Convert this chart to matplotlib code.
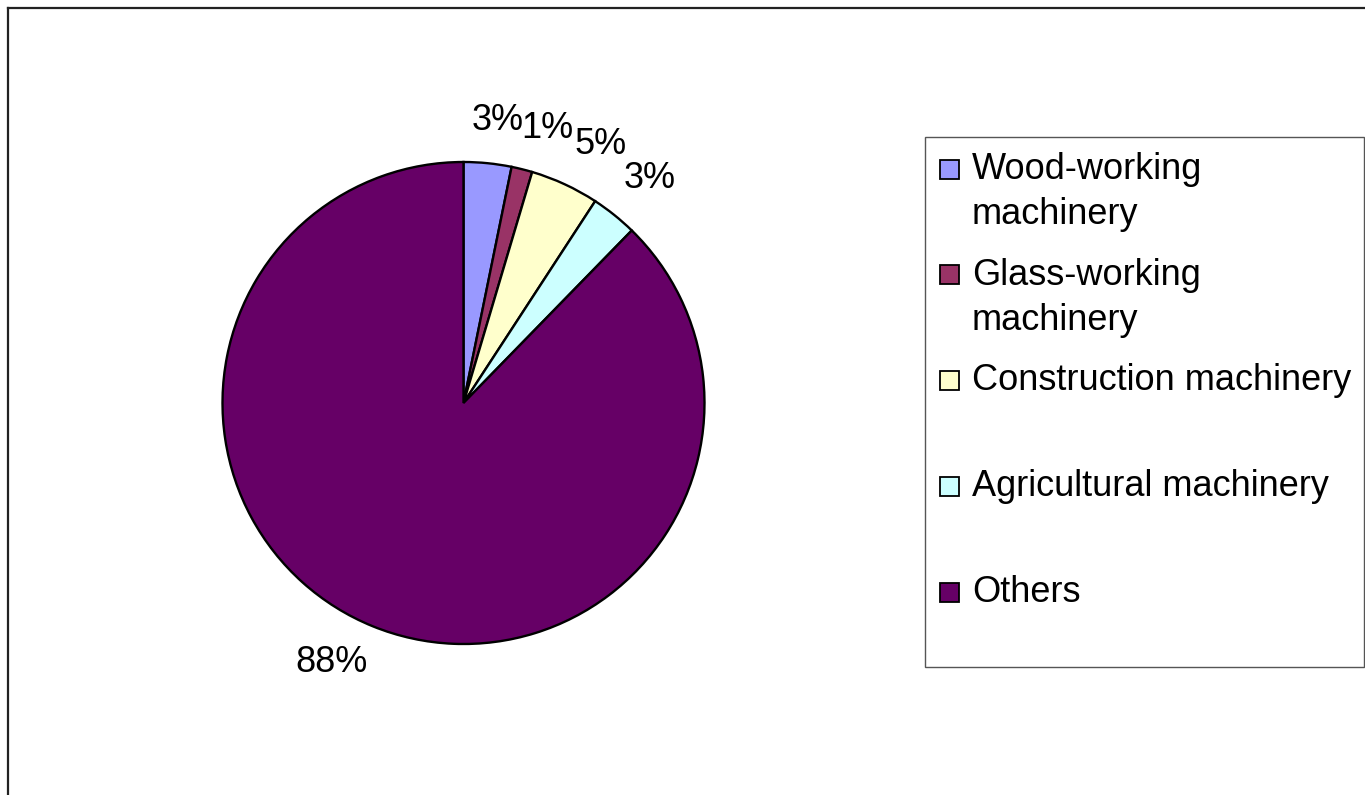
import matplotlib
matplotlib.use("Agg")
import matplotlib.pyplot as plt
from matplotlib.patches import Rectangle
from matplotlib.lines import Line2D

plt.rcParams['font.family'] = ['Liberation Sans', 'DejaVu Sans']

categories = ["Wood-working\nmachinery", "Glass-working\nmachinery",
              "Construction machinery", "Agricultural machinery", "Others"]
values = [3.2, 1.4, 4.6, 3.1, 87.7]
colors = ["#9999FF", "#993366", "#FFFFCC", "#CCFFFF", "#660066"]

W, H = 1365, 795
fig = plt.figure(figsize=(W / 100, H / 100), dpi=100)

# chart-area border (left and top visible)
fig.add_artist(Line2D([7.5 / W, 7.5 / W], [0, 1 - 7.5 / H], transform=fig.transFigure,
                      color="#222222", lw=1.6))
fig.add_artist(Line2D([7.5 / W, 1], [1 - 7.5 / H, 1 - 7.5 / H], transform=fig.transFigure,
                      color="#222222", lw=1.6))

cx, cy, r = 463.5, 403, 241
ax = fig.add_axes([(cx - r) / W, 1 - (cy + r) / H, 2 * r / W, 2 * r / H])
wedges, texts, autotexts = ax.pie(values, colors=colors, startangle=90, counterclock=False,
                                  autopct='%.0f%%', pctdistance=1.2, radius=1,
                                  wedgeprops=dict(edgecolor='black', linewidth=1.7),
                                  textprops=dict(fontsize=26, color='black'))
ax.set_xlim(-1, 1)
ax.set_ylim(-1, 1)
ax.set_aspect('equal')
ax.axis('off')

# Excel-like label placement (pixel centres -> data coords)
label_px = [(497.5, 121), (547, 128), (601, 145), (650, 179), (331.5, 662)]
for t, (px, py) in zip(autotexts, label_px):
    t.set_position(((px - cx) / r, (cy - py) / r))
    t.set_ha('center')
    t.set_va('center')

# legend box
lx0, ly0, lx1, ly1 = 925, 137, 1364, 667
fig.add_artist(Rectangle((lx0 / W, 1 - ly1 / H), (lx1 - lx0) / W, (ly1 - ly0) / H,
                         transform=fig.transFigure, facecolor='white',
                         edgecolor='#555555', lw=1.0))
step = 105.75
line_gap = 45
for i, (lab, col) in enumerate(zip(categories, colors)):
    yc = 168 + i * step
    sq = 19
    fig.add_artist(Rectangle((940 / W, 1 - (yc + 1 + sq / 2) / H), sq / W, sq / H,
                             transform=fig.transFigure, facecolor=col,
                             edgecolor='black', lw=1.3))
    for k, line in enumerate(lab.split("\n")):
        fig.text(972 / W, 1 - (yc + 11 + k * line_gap) / H, line, fontsize=26,
                 ha='left', va='baseline')

fig.savefig("out.png", dpi=100)
